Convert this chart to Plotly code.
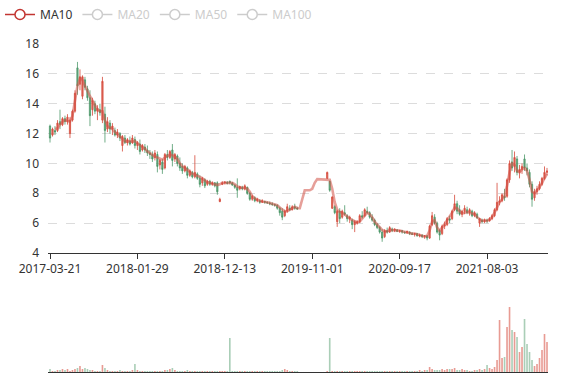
import plotly.graph_objects as go

# ---- data (one candle ≈ one week) ----
opens = [12.5,11.9,12.2,12.2,12.8,12.6,13.0,12.8,12.0,12.9,
         13.5,16.4,15.3,14.5,15.6,15.0,14.4,13.6,14.0,13.5,
         13.6,12.9,13.3,12.3,12.7,12.3,12.2,11.9,12.0,11.2,
         11.7,11.4,11.5,11.4,11.6,11.2,11.3,10.9,11.1,10.9,
         10.7,10.6,10.4,10.6,9.9,10.1,9.7,10.6,10.4,10.9,
         10.3,10.5,10.0,9.8,9.5,9.7,9.2,9.4,9.1,9.3,
         9.0,8.7,8.9,8.6,8.8,8.6,8.7,8.7,7.45,8.6,
         8.7,8.75,8.8,8.7,8.55,8.4,8.3,8.4,8.3,8.4,
         8.0,7.6,7.7,7.5,7.5,7.4,7.45,7.4,7.35,7.3,
         7.25,7.2,7.0,6.8,6.5,6.8,7.0,6.9,7.1,7.0,
         None,None,None,None,None,None,None,None,None,None,
         None,9.0,8.8,7.0,7.1,6.1,6.8,6.4,6.7,6.5,
         6.3,6.2,5.9,6.0,6.1,6.5,6.5,6.8,6.7,6.4,
         6.2,5.9,5.7,5.4,5.1,5.5,5.4,5.6,5.5,5.55,
         5.45,5.5,5.4,5.35,5.4,5.3,5.25,5.3,5.15,5.2,
         5.1,5.15,5.0,5.9,6.4,6.0,5.5,5.3,5.8,5.9,
         6.3,6.3,6.9,7.3,6.9,6.6,6.8,6.9,6.7,6.8,
         6.5,6.6,6.0,6.2,6.1,6.2,6.15,6.3,6.5,6.9,
         7.4,7.5,7.8,7.8,8.9,10.1,9.8,10.3,9.4,9.6,
         10.3,9.7,9.4,8.6,7.7,8.1,8.3,8.6,9.0,9.4]
highs = [12.6,12.4,12.5,12.9,13.6,13.1,13.2,13.3,13.1,13.6,
         14.9,16.8,16.3,15.9,15.8,15.2,14.9,14.4,14.2,13.9,
         14.0,15.8,13.8,13.1,12.9,12.7,12.4,12.3,12.1,11.9,
         11.9,11.7,11.8,11.9,11.8,11.5,11.6,11.3,11.3,11.2,
         10.9,10.8,10.9,10.8,10.3,10.3,10.7,10.9,10.9,11.3,
         10.7,10.6,10.4,10.0,9.9,9.8,9.6,9.5,10.55,9.4,
         9.2,9.1,9.0,8.9,8.9,8.8,8.75,8.8,7.7,8.8,
         8.8,8.8,8.85,8.75,8.6,9.0,8.5,8.5,8.6,8.45,
         8.1,7.9,7.8,7.7,7.6,7.6,7.5,7.45,7.45,7.4,
         7.3,7.25,7.1,7.0,6.9,7.3,7.2,7.2,7.3,7.1,
         None,None,None,None,None,None,None,None,None,None,
         None,9.45,8.85,7.8,7.2,6.9,7.0,6.9,7.2,6.6,
         6.5,6.3,6.2,6.2,6.6,6.8,7.0,7.1,6.8,6.6,
         6.3,6.0,5.8,5.6,5.6,5.7,5.8,5.7,5.65,5.6,
         5.55,5.55,5.45,5.5,5.45,5.4,5.35,5.35,5.3,5.25,
         5.2,5.2,5.9,6.75,6.6,6.1,5.6,5.9,6.1,6.4,
         6.5,6.9,7.9,7.5,7.2,6.9,7.2,7.1,7.0,6.9,
         6.8,6.7,6.35,6.3,6.3,6.3,6.4,6.6,7.0,8.7,
         7.8,8.0,8.3,9.0,10.2,10.9,10.8,10.5,9.9,10.0,
         10.6,10.0,9.6,8.8,8.3,8.5,8.8,9.1,9.8,9.7]
lows = [11.4,11.8,11.9,12.1,12.3,12.5,12.6,12.6,11.7,12.8,
        13.4,14.6,14.9,14.3,14.9,14.2,12.5,13.2,13.3,12.9,
        13.2,12.7,11.4,12.1,12.0,11.9,11.8,11.7,11.5,10.8,
        11.3,11.2,11.2,11.3,11.0,10.9,10.6,10.8,10.7,10.5,
        10.3,10.1,10.2,9.4,9.6,9.3,9.6,10.2,10.3,9.8,
        10.1,9.8,9.5,9.3,9.4,9.0,9.1,9.0,9.0,8.9,
        8.4,8.5,8.35,8.5,8.5,8.5,8.4,7.9,7.4,8.55,
        8.6,8.6,8.6,8.5,8.3,7.7,8.2,8.2,8.2,7.9,
        7.5,7.5,7.4,7.4,7.3,7.35,7.3,7.3,7.2,7.15,
        7.1,6.9,6.5,6.2,6.4,6.7,6.8,6.85,6.9,6.9,
        None,None,None,None,None,None,None,None,None,None,
        None,8.95,8.1,6.95,6.6,5.75,6.0,6.3,6.5,6.1,
        6.0,5.6,5.4,5.9,6.0,6.3,6.4,6.6,6.3,6.1,
        5.8,5.6,5.3,4.75,5.0,5.3,5.35,5.4,5.4,5.4,
        5.35,5.3,5.3,5.3,5.2,5.2,5.1,5.1,5.05,5.0,
        4.95,4.85,4.95,5.8,5.9,5.3,4.85,5.2,5.6,5.8,
        6.0,6.2,6.8,6.6,6.5,6.4,6.6,6.6,6.5,6.4,
        6.4,6.3,5.75,6.0,6.0,6.0,6.1,6.2,6.4,6.8,
        7.2,7.4,7.5,7.7,8.7,9.5,9.4,9.2,9.0,9.3,
        9.5,9.2,8.4,7.1,7.5,7.9,8.2,8.5,8.9,9.2]
closes = [11.7,12.3,12.1,12.7,12.6,13.0,12.8,13.1,12.9,13.5,
          14.7,15.2,15.8,15.8,15.1,14.4,13.2,14.2,13.5,13.7,
          13.4,15.5,12.2,12.8,12.3,12.5,11.9,12.1,11.7,11.8,
          11.4,11.6,11.3,11.7,11.2,11.4,10.8,11.2,10.9,10.7,
          10.6,10.3,10.7,9.8,10.2,9.6,10.6,10.4,10.8,10.2,
          10.6,10.0,9.7,9.5,9.8,9.2,9.5,9.1,9.4,9.0,
          8.6,9.0,8.5,8.8,8.6,8.7,8.5,8.1,7.6,8.7,
          8.75,8.65,8.7,8.55,8.4,8.2,8.45,8.3,8.5,8.0,
          7.6,7.8,7.5,7.6,7.4,7.5,7.4,7.35,7.3,7.25,
          7.2,7.0,6.7,6.4,6.8,7.1,6.9,7.1,7.0,6.95,
          None,None,None,None,None,None,None,None,None,None,
          None,9.4,8.2,7.75,6.7,6.8,6.3,6.8,6.6,6.3,
          6.4,5.9,6.1,6.1,6.5,6.4,6.9,6.7,6.4,6.2,
          5.9,5.7,5.4,5.0,5.5,5.4,5.7,5.5,5.6,5.45,
          5.5,5.4,5.35,5.45,5.3,5.25,5.3,5.15,5.2,5.1,
          5.15,5.0,5.8,6.5,6.0,5.4,5.2,5.8,5.9,6.3,
          6.2,6.8,7.3,6.8,6.6,6.8,7.0,6.7,6.9,6.5,
          6.7,6.35,6.3,6.1,6.2,6.15,6.3,6.5,6.9,7.4,
          7.5,7.9,7.7,8.9,10.0,9.7,10.4,9.4,9.6,9.8,
          9.7,9.5,8.6,7.6,8.1,8.3,8.6,9.0,9.4,9.5]
ma10 = [None,None,12.3,12.35,12.6,12.8,12.9,12.85,12.8,13.2,
        14.2,15.2,15.7,15.6,15.2,14.8,14.5,14.2,13.9,13.6,
        13.5,13.5,12.9,12.5,12.4,12.3,12.1,11.95,11.8,11.6,
        11.5,11.45,11.5,11.45,11.5,11.35,11.2,11.1,11.0,10.8,
        10.7,10.55,10.45,10.4,10.3,10.25,10.4,10.5,10.6,10.55,
        10.4,10.3,10.0,9.8,9.7,9.55,9.4,9.3,9.25,9.2,
        9.1,9.0,8.85,8.75,8.7,8.65,8.6,8.55,8.6,8.7,
        8.7,8.7,8.75,8.7,8.6,8.45,8.4,8.35,8.35,8.3,
        8.1,7.8,7.65,7.55,7.5,7.45,7.45,7.4,7.35,7.3,
        7.25,7.2,7.05,6.95,6.8,6.8,6.9,7.05,7.1,7.0,
        7.0,7.6,8.2,8.2,8.2,8.3,8.7,8.95,8.95,8.95,
        8.95,8.95,8.9,8.3,7.4,6.9,6.75,6.7,6.6,6.45,
        6.3,6.2,6.1,6.05,6.1,6.3,6.55,6.7,6.6,6.4,
        6.1,5.9,5.7,5.55,5.45,5.45,5.55,5.55,5.55,5.5,
        5.5,5.45,5.4,5.4,5.35,5.3,5.3,5.25,5.2,5.15,
        5.1,5.15,5.5,6.1,6.2,5.7,5.5,5.7,5.95,6.2,
        6.4,6.7,7.05,7.0,6.8,6.65,6.7,6.75,6.7,6.65,
        6.6,6.4,6.25,6.15,6.2,6.15,6.25,6.4,6.7,7.1,
        7.4,7.6,7.8,8.5,9.4,10.0,9.9,9.5,9.4,9.6,
        9.7,9.5,8.9,8.1,8.0,8.2,8.4,8.7,9.0,9.3]
volumes = [3,1,1,2,2,3,2,3,1,2,
           3,4,6,3,4,3,2,2,1,1,
           1,7,4,2,1,1,1,1,2,1,
           1,1,1,2,8,2,1,1,1,1,
           1,1,1,1,1,1,2,2,3,4,
           2,1,1,1,1,2,1,1,1,1,
           1,1,1,1,1,1,1,1,1,1,
           1,1,34,1,1,1,1,1,1,1,
           1,1,1,1,1,1,1,1,1,1,
           1,1,1,2,3,2,1,1,1,1,
           0,0,0,0,0,0,0,0,0,0,
           0,1,34,1,1,1,1,1,1,1,
           1,1,1,1,1,1,1,1,1,1,
           1,1,1,1,1,1,1,1,1,1,
           1,1,1,1,1,1,1,1,2,1,
           2,2,5,3,2,2,2,3,2,3,
           3,3,4,2,2,3,2,2,1,1,
           2,2,3,2,3,7,4,3,5,12,
           52,14,15,45,65,42,40,35,20,25,
           53,28,20,12,6,8,14,22,38,30]
tick_positions = [0, 35, 70, 105, 140, 175]
tick_labels = ["2017-03-21", "2018-01-29", "2018-12-13", "2019-11-01", "2020-09-17", "2021-08-03"]
legend_names = ["MA10", "MA20", "MA50", "MA100"]

idx = list(range(len(closes)))
UP = "rgba(214,72,58,0.8)"
DOWN = "rgba(66,146,96,0.75)"
UP_V = "rgba(214,72,58,0.55)"
DOWN_V = "rgba(66,146,96,0.45)"
vol_colors = []
for o, c in zip(opens, closes):
    if o is None:
        vol_colors.append(DOWN_V)
    else:
        vol_colors.append(UP_V if c >= o else DOWN_V)

FONT = "Noto Sans, Open Sans, sans-serif"
fig = go.Figure()
fig.add_trace(go.Candlestick(
    x=idx, open=opens, high=highs, low=lows, close=closes,
    increasing=dict(line=dict(color=UP, width=1), fillcolor=UP),
    decreasing=dict(line=dict(color=DOWN, width=1), fillcolor=DOWN),
    whiskerwidth=0, showlegend=False, hoverinfo="skip",
    xaxis="x", yaxis="y"))
fig.add_trace(go.Scatter(
    x=idx, y=ma10, mode="lines", connectgaps=False,
    line=dict(color="rgba(210,80,70,0.55)", width=2.6),
    showlegend=False, hoverinfo="skip", xaxis="x", yaxis="y"))
# legend entries
for k, nm in enumerate(legend_names):
    col = "#c23531" if k == 0 else "#cccccc"
    label = nm if k == 0 else f"<span style='color:#cccccc'>{nm}</span>"
    fig.add_trace(go.Scatter(
        x=[None], y=[None], mode="lines+markers", name=label,
        line=dict(color=col, width=1.5),
        marker=dict(symbol="circle", size=10, color="white",
                    line=dict(color=col, width=1.5)),
        xaxis="x", yaxis="y"))
fig.add_trace(go.Bar(
    x=idx, y=volumes, marker=dict(color=vol_colors, line=dict(width=0)),
    showlegend=False, hoverinfo="skip", xaxis="x2", yaxis="y2"))

xr = [-0.8, 199.4]
fig.update_layout(
    width=577, height=380,
    margin=dict(l=48, r=29, t=44, b=8, autoexpand=False),
    paper_bgcolor="white", plot_bgcolor="white",
    font=dict(family=FONT, size=12, color="#333"),
    bargap=0.35,
    showlegend=True,
    legend=dict(orientation="h", x=0, y=1, xanchor="left", yanchor="top",
                xref="container", yref="container",
                font=dict(size=12, color="#333"),
                itemwidth=30, bgcolor="rgba(0,0,0,0)", tracegroupgap=0),
    xaxis=dict(domain=[0, 1], range=xr, rangeslider=dict(visible=False),
               tickmode="array", tickvals=tick_positions, ticktext=tick_labels,
               showline=True, linecolor="#333", linewidth=1,
               ticks="outside", ticklen=5, tickcolor="#333",
               showgrid=False, zeroline=False, anchor="y",
               tickfont=dict(size=12, color="#333")),
    yaxis=dict(domain=[0.3628, 1], range=[4, 18], dtick=2, tick0=4,
               showline=False, ticks="", showgrid=True,
               gridcolor="#dcdcdc", griddash="dash", gridwidth=1,
               zeroline=False, ticklabelstandoff=8,
               tickfont=dict(size=12, color="#333")),
    xaxis2=dict(domain=[0, 1], range=xr, anchor="y2",
                showline=True, linecolor="#333", linewidth=1,
                showticklabels=False, ticks="", showgrid=False, zeroline=False),
    yaxis2=dict(domain=[0, 0.2195], range=[0, 72], visible=False,
                showgrid=False, zeroline=False),
)
fig.write_html("out.html")
